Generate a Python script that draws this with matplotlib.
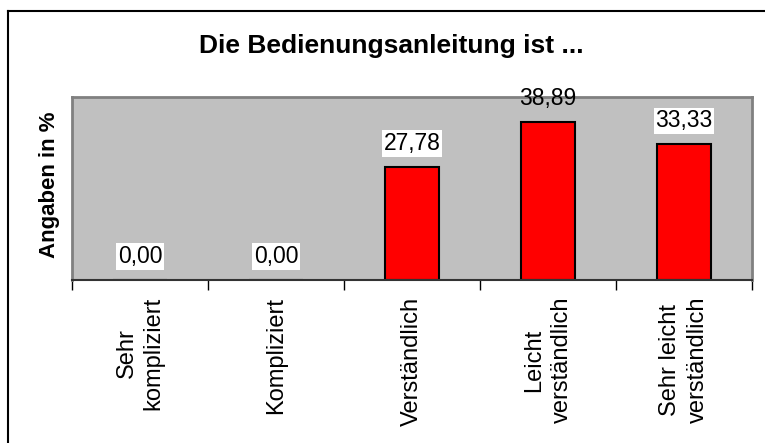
import matplotlib
matplotlib.use("Agg")
import matplotlib.pyplot as plt
from matplotlib.lines import Line2D

categories = ["Sehr\nkompliziert", "Kompliziert", "Verständlich",
              "Leicht\nverständlich", "Sehr leicht\nverständlich"]
values = [0.00, 0.00, 27.78, 38.89, 33.33]
title = "Die Bedienungsanleitung ist ..."
ylabel = "Angaben in %"
ymax = 45

plt.rcParams['font.family'] = ['Liberation Sans', 'DejaVu Sans']

W, H = 765, 443
fig = plt.figure(figsize=(W / 100, H / 100), dpi=100)
ax = fig.add_axes([72 / W, 1 - 280 / H, (752 - 72) / W, (280 - 97) / H])
ax.set_facecolor('#C0C0C0')

x = list(range(len(categories)))
ax.bar(x, values, width=0.4, color='#FF0000', edgecolor='black', linewidth=1.5, zorder=2)
ax.set_xlim(-0.5, len(categories) - 0.5)
ax.set_ylim(0, ymax)
ax.set_yticks([])

ax.set_xticks(x)
ax.set_xticklabels(categories, rotation=90, fontsize=17, ha='center', va='top',
                   multialignment='center', linespacing=1.3)
ax.tick_params(axis='x', length=0, pad=12)
ax.set_xticks([i - 0.5 for i in range(len(categories) + 1)], minor=True)
ax.tick_params(axis='x', which='minor', length=7, width=1, color='black', direction='out')

for s in ['left', 'top', 'right']:
    ax.spines[s].set_color('#808080')
    ax.spines[s].set_linewidth(2)
ax.spines['bottom'].set_color('#333333')
ax.spines['bottom'].set_linewidth(1.5)

for xi, v in zip(x, values):
    label = f"{v:.2f}".replace('.', ',')
    fits = v + 14 / 4.07 * 3 < ymax
    kw = dict(bbox=dict(boxstyle='square,pad=0.08', fc='white', ec='none')) if fits else {}
    ax.annotate(label, (xi, v), xytext=(0, 12), textcoords='offset pixels',
                ha='center', va='bottom', fontsize=16.5, zorder=5,
                annotation_clip=False, **kw)

fig.text(391 / W, 1 - 46 / H, title, ha='center', va='center',
         fontsize=19, fontweight='bold')
fig.text(50 / W, 1 - 185 / H, ylabel, ha='center', va='center', rotation=90,
         fontsize=16, fontweight='bold')

fig.add_artist(Line2D([7.5 / W, 7.5 / W], [0, 1 - 10.5 / H], transform=fig.transFigure,
                      color='black', linewidth=1.5))
fig.add_artist(Line2D([7.5 / W, 1], [1 - 10.5 / H, 1 - 10.5 / H], transform=fig.transFigure,
                      color='black', linewidth=1.5))

fig.savefig('out.png', dpi=100)
